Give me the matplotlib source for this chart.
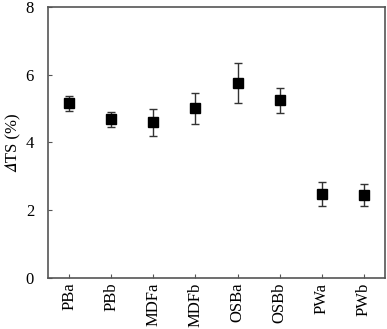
import matplotlib
matplotlib.use("Agg")
import matplotlib.pyplot as plt

plt.rcParams['font.family'] = ['Liberation Serif', 'STIXGeneral', 'DejaVu Serif']

# data
samples = ["PBa", "PBb", "MDFa", "MDFb", "OSBa", "OSBb", "PWa", "PWb"]
dts = [5.16, 4.69, 4.60, 5.01, 5.75, 5.25, 2.48, 2.45]
dts_err = [0.22, 0.22, 0.40, 0.46, 0.59, 0.37, 0.36, 0.33]

fig = plt.figure(figsize=(3.87, 3.29), dpi=100)
ax = fig.add_axes([0.124, 0.155, 0.871, 0.824])

x = list(range(len(samples)))
ax.errorbar(x, dts, yerr=dts_err, fmt='s', color='black', ms=7,
            ecolor='#333333', elinewidth=1.0, capsize=3, capthick=1.0)

ax.set_xlim(-0.5, len(samples) - 0.5)
ax.set_ylim(0, 8)
ax.set_yticks([0, 2, 4, 6, 8])
ax.set_xticks(x)
ax.set_xticklabels(samples, rotation=90)
ax.tick_params(direction='in', length=3, labelsize=12, color='#555555')
ax.tick_params(axis='y', pad=10)
ax.tick_params(axis='x', pad=3.5)
# italic delta (math italic capital delta)
ax.set_ylabel('\U0001D6E5TS (%)', fontsize=12, labelpad=4)

for s in ax.spines.values():
    s.set_color('#555555')
    s.set_linewidth(1.2)

fig.savefig("out.png", dpi=100)
